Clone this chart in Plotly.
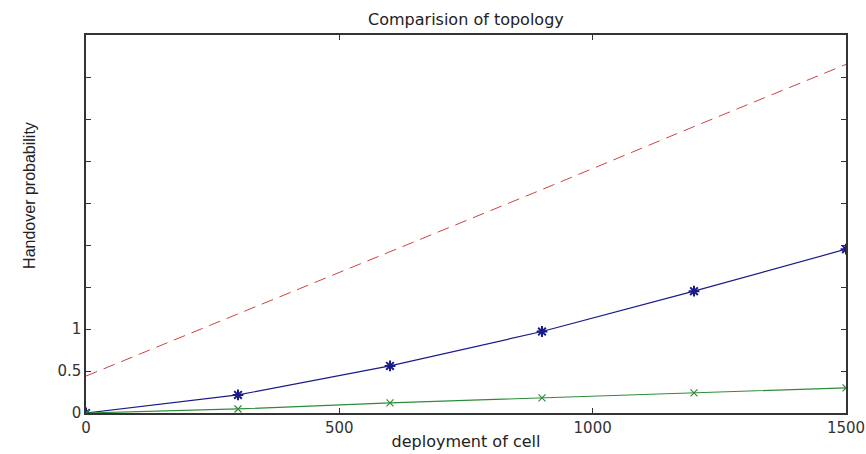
import plotly.graph_objects as go

x_vals = [0, 300, 600, 900, 1200, 1500]
red_vals = [0.44, 1.18, 1.92, 2.66, 3.41, 4.15]
blue_vals = [0.0, 0.215, 0.56, 0.97, 1.45, 1.95]
green_vals = [0.0, 0.048, 0.12, 0.18, 0.24, 0.30]

y_tickvals = [0, 0.5, 1, 1.5, 2, 2.5, 3, 3.5, 4, 4.5]
y_ticktext = ["0", "0.5", "1", "", "", "", "", "", "", ""]
x_tickvals = [0, 500, 1000, 1500]

fig = go.Figure()
fig.add_trace(go.Scatter(x=x_vals, y=red_vals, mode="lines",
                         line=dict(color="#cc4444", width=1, dash="12px,7px")))
fig.add_trace(go.Scatter(x=x_vals, y=blue_vals, mode="lines+markers",
                         line=dict(color="#1a1a8a", width=1.2),
                         marker=dict(symbol="asterisk-open", size=9,
                                     line=dict(color="#1a1a9a", width=2))))
fig.add_trace(go.Scatter(x=x_vals, y=green_vals, mode="lines+markers",
                         line=dict(color="#2e8b3a", width=1.2),
                         marker=dict(symbol="x-thin-open", size=7,
                                     line=dict(color="#2e8b3a", width=1.2))))

axis_common = dict(showgrid=False, zeroline=False, showline=True, mirror="ticks",
                   linecolor="#333333", linewidth=1.5, ticks="inside", ticklen=5,
                   tickcolor="#333333", automargin=False,
                   tickfont=dict(family="DejaVu Sans", size=15, color="#333333"))

fig.update_layout(
    width=866, height=454,
    margin=dict(l=86, r=20, t=35, b=41),
    paper_bgcolor="white", plot_bgcolor="white",
    showlegend=False,
    title=dict(text="Comparision of topology", x=0.538, xanchor="center",
               y=0.97, yanchor="top",
               font=dict(family="DejaVu Sans", size=16, color="#222222")),
    xaxis=dict(range=[0, 1500], tickvals=x_tickvals,
               title=dict(text="deployment of cell", standoff=0,
                          font=dict(family="DejaVu Sans", size=16, color="#222222")),
               **axis_common),
    yaxis=dict(range=[0, 4.5], tickvals=y_tickvals, ticktext=y_ticktext,
               **axis_common),
)

fig.add_annotation(text="Handover probability", xref="paper", yref="paper",
                   x=-0.0737, y=0.577, textangle=-90, showarrow=False,
                   xanchor="center", yanchor="middle",
                   font=dict(family="Liberation Sans, Arial", size=16, color="#222222"))

fig.write_html("out.html")
